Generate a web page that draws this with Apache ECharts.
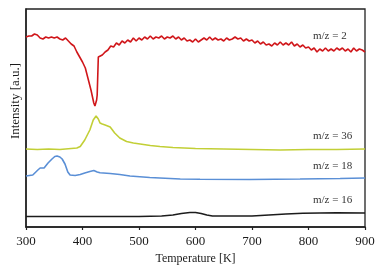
<!DOCTYPE html>
<html>
<head>
<meta charset="utf-8">
<script src="https://cdn.jsdelivr.net/npm/echarts@6/dist/echarts.min.js"></script>
<style>html,body{margin:0;padding:0;background:#fff;}#c{width:380px;height:272px;}</style>
</head>
<body>
<div id="c"></div>
<script>
// Temperature ticks
var xTicks = [300, 400, 500, 600, 700, 800, 900];

// m/z = 2 (red)
var redT = [300,305,310,315,320,325,330,335,340,345,350,355,360,365,370,375,380,385,390,395,400,405,410,415,420,422,425,426,428,430,435,440,445,450,455,460,465,470,475,480,485,490,495,500,505,510,515,520,525,530,535,540,545,550,555,560,565,570,575,580,585,590,595,600,605,610,615,620,625,630,635,640,645,650,655,660,665,670,675,680,685,690,695,700,705,710,715,720,725,730,735,740,745,750,755,760,765,770,775,780,785,790,795,800,805,810,815,820,825,830,835,840,845,850,855,860,865,870,875,880,885,890,895,900];
var redI = [190,191,191,193,192,189,188,190,189,190,189,190,188,187,189,186,183,181,175,170,165,159,148,137,124,121,127,132,170,171,172,175,177,181,180,184,182,186,184,187,185,189,186,189,187,190,188,191,188,190,189,191,188,190,189,191,188,190,187,189,186,187,185,188,185,187,189,187,190,187,189,187,188,186,189,187,188,190,188,189,186,188,186,187,184,186,183,185,182,183,181,184,182,185,182,184,182,185,181,183,180,182,179,180,177,179,175,178,176,179,176,178,176,179,177,179,176,178,175,179,176,178,177,175];

// m/z = 36 (green)
var greenT = [300,320,340,360,380,390,396,404,413,419,424,428,431,435,440,449,453,457,466,478,490,502,520,537,560,580,600,650,700,750,800,850,900];
var greenI = [78,77.5,78,77.5,78.5,79,80.5,87,97,107,111,108,104,103,102,100,97,94,89,85.5,84,83,81.5,80.5,79.5,79,78.5,78,77.5,77,77.5,77.5,78];

// m/z = 18 (blue)
var blueT = [300,312,321,325,332,335,339,346,351,355,360,364,369,374,378,387,396,404,413,420,426,431,449,466,484,519,573,608,696,785,856,900];
var blueI = [51,52,57,59,59,60,64,68,70.5,71,70,68,63,55,52,51.5,52.5,54,55.5,56.5,55,54.3,53.5,52.5,51,49.5,48,47.7,47.5,48,48.5,49];

// m/z = 16 (black)
var blackT = [300,400,500,540,560,575,590,600,610,620,630,650,700,730,760,790,850,900];
var blackI = [10.5,10.5,10.5,11,12,13.5,14.5,14.5,13.5,12,11,11,11,12,13,13.7,14.3,14];

var seriesNames = ['m/z = 2', 'm/z = 36', 'm/z = 18', 'm/z = 16'];
var xTitle = 'Temperature [K]';
var yTitle = 'Intensity [a.u.]';

function pairs(t, v) { return t.map(function (x, i) { return [x, v[i]]; }); }

var chart = echarts.init(document.getElementById('c'), null, {renderer: 'canvas'});
var serif = 'Liberation Serif, Times New Roman, serif';
var colors = ['#d0161a', '#c2cf36', '#5a8fd6', '#1c1c1c'];
var datas = [pairs(redT, redI), pairs(greenT, greenI), pairs(blueT, blueI), pairs(blackT, blackI)];
var labelY = [38, 138, 168, 202];

chart.setOption({
  animation: false,
  grid: {left: 26, right: 15, top: 9, bottom: 45, show: true, borderColor: '#222', borderWidth: 1.3, backgroundColor: 'transparent'},
  xAxis: {
    type: 'value', min: 300, max: 900, interval: 100,
    name: xTitle, nameLocation: 'middle', nameGap: 25,
    nameTextStyle: {fontFamily: serif, fontSize: 12, color: '#1a1a1a'},
    axisLine: {show: true, lineStyle: {color: '#222', width: 1.5}},
    axisTick: {show: true, inside: false, length: 3, lineStyle: {color: '#222', width: 1.2}},
    axisLabel: {fontFamily: serif, fontSize: 13, color: '#1a1a1a', margin: 8,
      formatter: function (v) { return xTicks.indexOf(v) >= 0 ? String(v) : ''; }},
    splitLine: {show: false}
  },
  yAxis: {
    type: 'value', min: 0, max: 218,
    axisLine: {show: true, lineStyle: {color: '#222', width: 1.5}},
    axisTick: {show: false}, axisLabel: {show: false}, splitLine: {show: false}
  },
  graphic: seriesNames.map(function (n, i) {
    return {type: 'text', left: 313, top: labelY[i] - 7,
      style: {text: n, fontFamily: serif, fontSize: 11, fill: '#333'}};
  }).concat([{
    type: 'text', x: 16, y: 101, rotation: Math.PI / 2,
    style: {text: yTitle, fontFamily: serif, fontSize: 13, fill: '#1a1a1a', align: 'center', verticalAlign: 'middle'}
  }]),
  series: datas.map(function (d, i) {
    return {type: 'line', data: d, showSymbol: false, symbol: 'none', smooth: false,
      lineStyle: {color: colors[i], width: i === 0 ? 1.6 : 1.6}, z: 3};
  })
});
</script>
</body>
</html>
